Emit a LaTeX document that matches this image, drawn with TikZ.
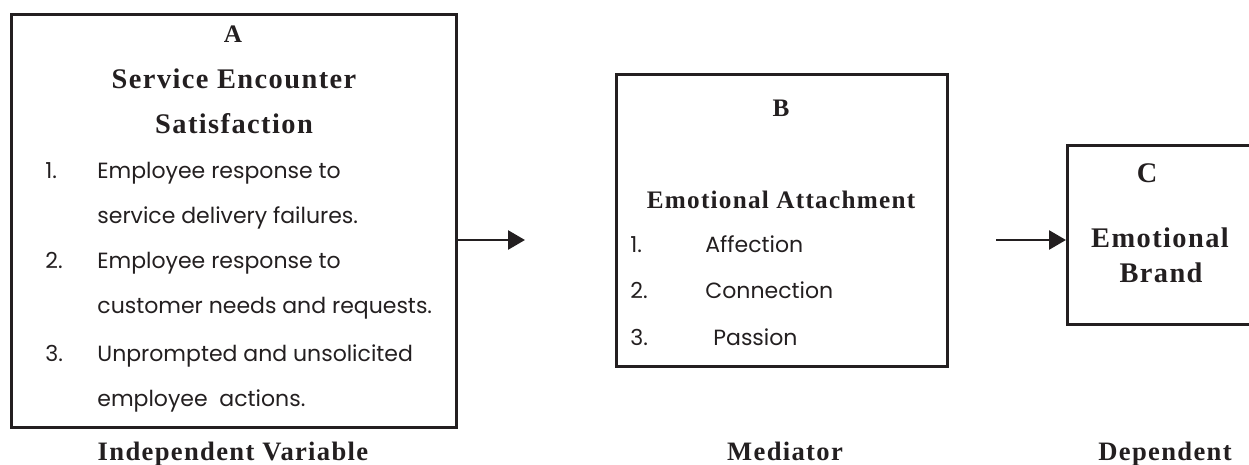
\documentclass[tikz,border=0pt]{standalone}
\usepackage{fontspec}
\setmainfont{Liberation Serif}
\newfontfamily\itemfont{Poppins}
\usetikzlibrary{arrows.meta,positioning}
\definecolor{ink}{HTML}{231F20}
\tikzset{
  box/.style={draw=ink, line width=1.5pt, inner sep=0pt, anchor=north west},
  head/.style={font=\bfseries\addfontfeature{LetterSpace=5}\fontsize{12.6}{15}\selectfont, text=ink, anchor=base, inner sep=0pt},
  bighead/.style={head, font=\bfseries\addfontfeature{LetterSpace=5}\fontsize{14.2}{17}\selectfont},
  role/.style={head, font=\bfseries\addfontfeature{LetterSpace=5}\fontsize{13.3}{16}\selectfont},
  item/.style={font=\itemfont\fontsize{11}{13}\selectfont, text=ink, anchor=base west, inner sep=0pt},
  arrow/.style={-{Triangle[length=8.5pt,width=9.5pt]}, line width=1.3pt, draw=ink}
}

\begin{document}
\begin{tikzpicture}[x=0.5pt, y=-0.5pt]
\clip (0,0) rectangle (1249,465);

% Boxes
\node[box, minimum width=222.5pt, minimum height=206.5pt] (boxA) at (10,13) {};
\node[box, minimum width=165.5pt, minimum height=146pt] (boxB) at (615,73) {};
\node[box, minimum width=112pt, minimum height=89.5pt] (boxC) at (1066,144) {};

% Box A
\node[head] (letterA) at (233,43) {A};
\node[bighead] (titleA1) at (234,89) {Service Encounter};
\node[bighead] (titleA2) at (234,134) {Satisfaction};
\node[item] (numA1) at (45,179) {1.};
\node[item] (itemA1a) at (97,179) {Employee response to};
\node[item] (itemA1b) at (97,224) {service delivery failures.};
\node[item] (numA2) at (45,269) {2.};
\node[item] (itemA2a) at (97,269) {Employee response to};
\node[item] (itemA2b) at (97,314) {customer needs and requests.};
\node[item] (numA3) at (45,361) {3.};
\node[item] (itemA3a) at (97,361) {Unprompted and unsolicited};
\node[item] (itemA3b) at (97,406) {employee\ \ actions.};

% Box B
\node[head] (letterB) at (781,117) {B};
\node[head] (titleB) at (781,208) {Emotional Attachment};
\node[item] (numB1) at (630,253) {1.};
\node[item] (itemB1) at (705,253) {Affection};
\node[item] (numB2) at (630,299) {2.};
\node[item] (itemB2) at (705,299) {Connection};
\node[item] (numB3) at (630,345) {3.};
\node[item] (itemB3) at (713,345) {Passion};

% Box C
\node[bighead] (letterC) at (1147,183) {C};
\node[bighead] (titleC1) at (1160,248) {Emotional};
\node[bighead] (titleC2) at (1161,282) {Brand};

% Arrows
\coordinate (tipAB) at (525,240);
\coordinate (startBC) at (996,240);
\draw[arrow] (boxA.east |- tipAB) -- (tipAB);
\draw[arrow] (startBC) -- (startBC -| boxC.west);

% Variable roles
\node[role] (roleA) at (233,460) {Independent Variable};
\node[role] (roleB) at (785,460) {Mediator};
\node[role] (roleC) at (1165,460) {Dependent};
\end{tikzpicture}
\end{document}
